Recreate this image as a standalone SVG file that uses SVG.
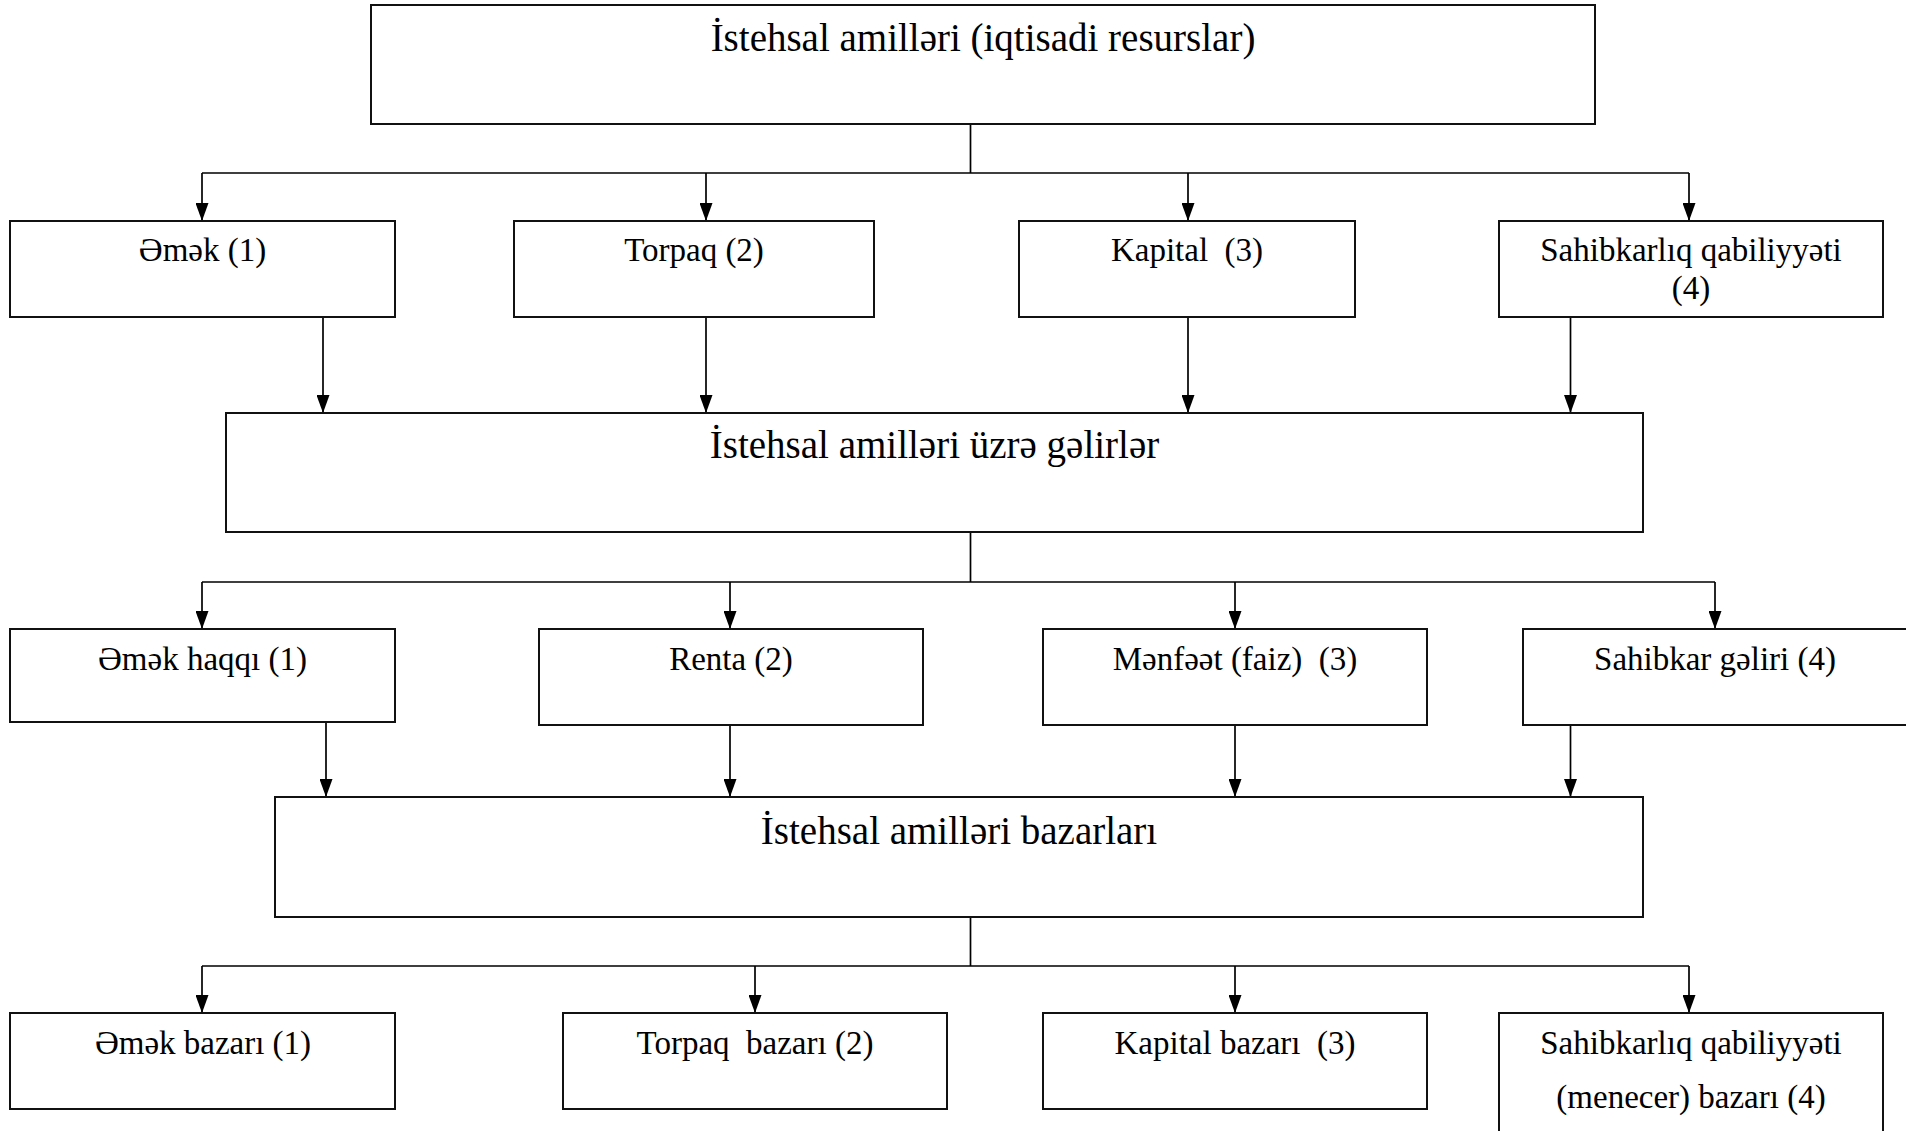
<svg xmlns="http://www.w3.org/2000/svg" width="1906" height="1131" viewBox="0 0 1906 1131">
<defs>
<style>
.box{fill:#fff;stroke:#111;stroke-width:2}
.big{font-family:"Liberation Serif","Times New Roman",serif;font-size:39px;fill:#000;text-anchor:middle}
.t{font-family:"Liberation Serif","Times New Roman",serif;font-size:33px;fill:#000;text-anchor:middle}
.c{fill:none;stroke:#000;stroke-width:1.7}
.a{fill:none;stroke:#000;stroke-width:1.7;marker-end:url(#ah)}
</style>
<marker id="ah" viewBox="0 0 18 13" refX="18" refY="6.5" markerWidth="18" markerHeight="13" markerUnits="userSpaceOnUse" orient="auto">
<path d="M0,0 L18,6.5 L0,13 z" fill="#000"/>
</marker>
</defs>
<rect width="1906" height="1131" fill="#fff"/>

<g id="connectors">
<path class="c" d="M970.5,124 V173 M202,173 H1689"/>
<path class="a" d="M202,173 V221"/>
<path class="a" d="M706,173 V221"/>
<path class="a" d="M1188,173 V221"/>
<path class="a" d="M1689,173 V221"/>
<path class="a" d="M323,317 V413"/>
<path class="a" d="M706,317 V413"/>
<path class="a" d="M1188,317 V413"/>
<path class="a" d="M1570.5,317 V413"/>

<path class="c" d="M970.5,532 V582 M202,582 H1715"/>
<path class="a" d="M202,582 V629"/>
<path class="a" d="M730,582 V629"/>
<path class="a" d="M1235,582 V629"/>
<path class="a" d="M1715,582 V629"/>
<path class="a" d="M326,722 V797"/>
<path class="a" d="M730,725 V797"/>
<path class="a" d="M1235,725 V797"/>
<path class="a" d="M1570.5,725 V797"/>

<path class="c" d="M970.5,917 V966 M202,966 H1689"/>
<path class="a" d="M202,966 V1013"/>
<path class="a" d="M755,966 V1013"/>
<path class="a" d="M1235,966 V1013"/>
<path class="a" d="M1689,966 V1013"/>
</g>

<g id="n-top"><rect class="box" x="371" y="5" width="1224" height="119"/><text class="big" x="983" y="51">İstehsal amilləri (iqtisadi resurslar)</text></g>

<g id="n-emek"><rect class="box" x="10" y="221" width="385" height="96"/><text class="t" x="202.5" y="261">Əmək (1)</text></g>
<g id="n-torpaq"><rect class="box" x="514" y="221" width="360" height="96"/><text class="t" x="694" y="261">Torpaq (2)</text></g>
<g id="n-kapital"><rect class="box" x="1019" y="221" width="336" height="96"/><text class="t" x="1187" y="261" xml:space="preserve">Kapital  (3)</text></g>
<g id="n-sahib"><rect class="box" x="1499" y="221" width="384" height="96"/><text class="t" x="1691" y="261">Sahibkarlıq qabiliyyəti</text><text class="t" x="1691" y="299">(4)</text></g>

<g id="n-gelir"><rect class="box" x="226" y="413" width="1417" height="119"/><text class="big" x="934.5" y="458">İstehsal amilləri üzrə gəlirlər</text></g>

<g id="n-emekhaqqi"><rect class="box" x="10" y="629" width="385" height="93"/><text class="t" x="202.5" y="670">Əmək haqqı (1)</text></g>
<g id="n-renta"><rect class="box" x="539" y="629" width="384" height="96"/><text class="t" x="731" y="670">Renta (2)</text></g>
<g id="n-menfeet"><rect class="box" x="1043" y="629" width="384" height="96"/><text class="t" x="1235" y="670" xml:space="preserve">Mənfəət (faiz)  (3)</text></g>
<g id="n-sahibkargeliri"><rect class="box" x="1523" y="629" width="400" height="96"/><text class="t" x="1715" y="670">Sahibkar gəliri (4)</text></g>

<g id="n-bazar"><rect class="box" x="275" y="797" width="1368" height="120"/><text class="big" x="959" y="844">İstehsal amilləri bazarları</text></g>

<g id="n-emekbazari"><rect class="box" x="10" y="1013" width="385" height="96"/><text class="t" x="203" y="1054">Əmək bazarı (1)</text></g>
<g id="n-torpaqbazari"><rect class="box" x="563" y="1013" width="384" height="96"/><text class="t" x="755" y="1054" xml:space="preserve">Torpaq  bazarı (2)</text></g>
<g id="n-kapitalbazari"><rect class="box" x="1043" y="1013" width="384" height="96"/><text class="t" x="1235" y="1054" xml:space="preserve">Kapital bazarı  (3)</text></g>
<g id="n-menecer"><rect class="box" x="1499" y="1013" width="384" height="140"/><text class="t" x="1691" y="1054">Sahibkarlıq qabiliyyəti</text><text class="t" x="1691" y="1108">(menecer) bazarı (4)</text></g>
</svg>
